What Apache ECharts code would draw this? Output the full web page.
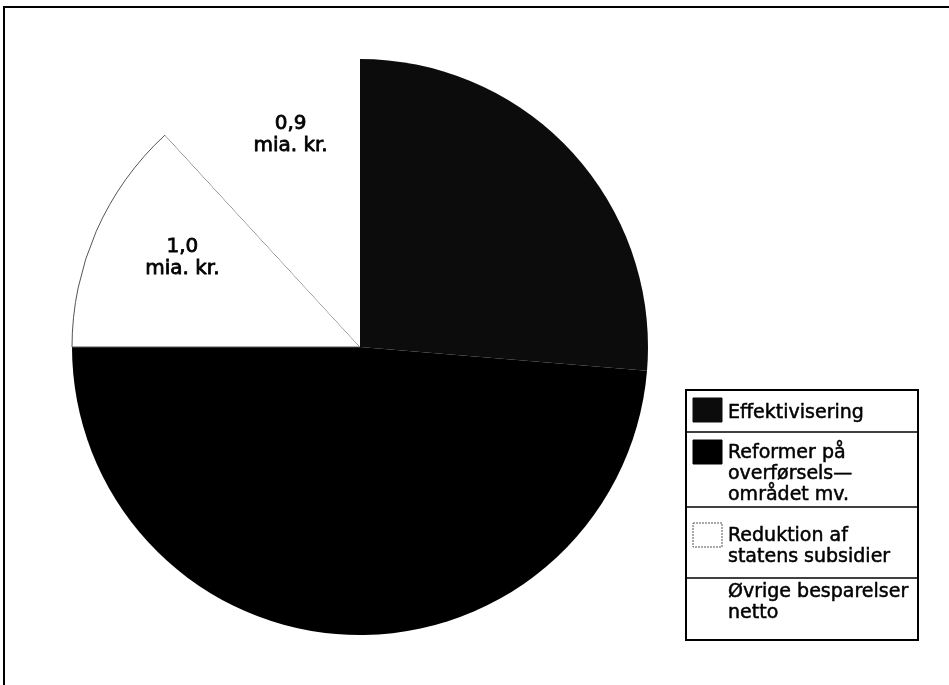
<!DOCTYPE html>
<html><head><meta charset="utf-8">
<script src="https://cdn.jsdelivr.net/npm/echarts@6/dist/echarts.min.js"></script>
<style>html,body{margin:0;padding:0;background:#fff}#c{width:949px;height:685px}</style>
</head><body><div id="c"></div>
<script>
// ---- data ----
const categories = ['Effektivisering', 'Reformer på overførselsområdet mv.', 'Reduktion af statens subsidier', 'Øvrige besparelser netto'];
const values = [2.0, 3.7, 1.0, 0.9];           // mia. kr.
const legendLabels = ['Effektivisering', 'Reformer på\noverførsels—\nområdet mv.', 'Reduktion af\nstatens subsidier', 'Øvrige besparelser\nnetto'];
const sliceLabels = ['', '', '1,0\nmia. kr.', '0,9\nmia. kr.'];

// ---- styles ----
const fills = ['#0c0c0c', '#000000', '#ffffff', '#ffffff'];
const borders = [null, null, '#555555', null];
const labelShift = [[0, 0], [0, 0], [-43, -30], [-16, -75]];
const FONT = 'DejaVu Sans';

// legend layout
const LX = 686, LW = 232;
const rowTops = [390, 432, 507, 578, 640];
const textTops = [403, 443, 526, 582];
const swatchTops = [398, 440, 523, 581];

const chart = echarts.init(document.getElementById('c'), null, {renderer: 'canvas'});

const g = [];
// outer frame (cropped at right/bottom)
g.push({type: 'rect', shape: {x: 4, y: 7, width: 1000, height: 1000}, style: {fill: 'none', stroke: '#000', lineWidth: 2}, silent: true});
// legend box
g.push({type: 'rect', shape: {x: LX, y: rowTops[0], width: LW, height: rowTops[4] - rowTops[0]}, style: {fill: '#fff', stroke: '#000', lineWidth: 2}, silent: true});
for (let i = 1; i < 4; i++) {
  g.push({type: 'line', shape: {x1: LX, y1: rowTops[i], x2: LX + LW, y2: rowTops[i]}, style: {stroke: '#000', lineWidth: 1.6}, silent: true});
}
categories.forEach((c, i) => {
  if (i < 3) {
    g.push({type: 'rect', shape: {x: 693, y: swatchTops[i], width: 29, height: 24},
      style: {fill: fills[i], stroke: i === 2 ? '#555' : fills[i], lineWidth: 1, lineDash: i === 2 ? [2, 1] : null}, silent: true});
  }
  g.push({type: 'text', x: 728, y: textTops[i],
    style: {text: legendLabels[i], font: '19px "' + FONT + '"', lineHeight: 21, fill: '#000',
      stroke: '#000', lineWidth: 0.5, verticalAlign: 'top', align: 'left'}, silent: true});
});

chart.setOption({
  animation: false,
  backgroundColor: '#fff',
  series: [{
    type: 'pie',
    center: [360, 347],
    radius: [0, 288],
    startAngle: 90,
    clockwise: true,
    silent: true,
    avoidLabelOverlap: false,
    data: categories.map((n, i) => ({
      name: n,
      value: values[i],
      itemStyle: {color: fills[i], borderColor: borders[i] || fills[i], borderWidth: borders[i] ? 1 : 0},
      label: {show: !!sliceLabels[i]}
    })),
    label: {
      position: 'inside',
      formatter: p => sliceLabels[p.dataIndex],
      fontFamily: FONT, fontSize: 20, lineHeight: 22, color: '#000', align: 'center',
      textBorderColor: '#000', textBorderWidth: 0.8
    },
    labelLine: {show: false},
    labelLayout: p => ({dx: labelShift[p.dataIndex][0], dy: labelShift[p.dataIndex][1]}),
    emphasis: {disabled: true}
  }],
  graphic: g
});
</script>
</body></html>
